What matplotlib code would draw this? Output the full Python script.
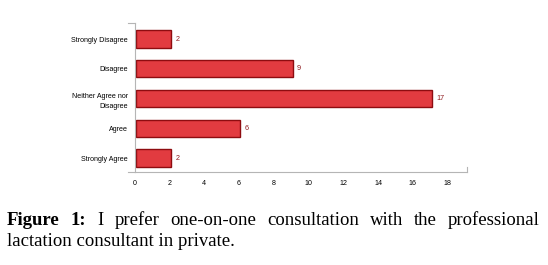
import matplotlib
matplotlib.use('Agg')
import matplotlib.pyplot as plt

categories = ['Strongly Agree', 'Agree', 'Neither Agree nor\nDisagree', 'Disagree', 'Strongly Disagree']
counts = [2, 6, 17, 9, 2]
xticks = [0, 2, 4, 6, 8, 10, 12, 14, 16, 18]

W, H = 548, 265
fig = plt.figure(figsize=(W / 100, H / 100), dpi=100)
ax = fig.add_axes([134.7 / W, 1 - 171.7 / H, (466.7 - 134.7) / W, (171.7 - 23.3) / H])

ypos = list(range(len(categories)))
bars = ax.barh(ypos, counts, height=0.58, left=0.08, color='#e23b40',
               edgecolor='#8e0c10', linewidth=1.0)
for y, v in zip(ypos, counts):
    ax.text(v + 0.08 + 0.25, y, str(v), va='center', ha='left',
            fontsize=5.2, color='#8e1a1e', family='Liberation Sans')

ax.set_xlim(0, 19.1)
ax.set_ylim(-0.46, 4.53)
ax.set_yticks(ypos)
ax.set_yticklabels(categories, fontsize=5.1, family='Liberation Sans', linespacing=1.7)
ax.set_xticks(xticks)
ax.set_xticklabels([str(t) for t in xticks], fontsize=5.1, family='Liberation Sans')
ax.tick_params(length=0, pad=5)
ax.tick_params(axis='x', pad=6)
for s in ['top', 'right']:
    ax.spines[s].set_visible(False)
for s in ['left', 'bottom']:
    ax.spines[s].set_color('#b5b5b5')
    ax.spines[s].set_linewidth(0.8)
# small end caps on axes
ax.plot([-0.4, 0], [-0.46, -0.46], color='#b5b5b5', lw=0.8, clip_on=False)
ax.plot([0, -0.4], [4.53, 4.53], color='#b5b5b5', lw=0.8, clip_on=False)
ax.plot([19.1, 19.1], [-0.46, -0.3], color='#b5b5b5', lw=0.8, clip_on=False)

# justified caption
fig.canvas.draw()
r = fig.canvas.get_renderer()
line1 = [('Figure', 'bold'), ('1:', 'bold'), ('I', 'normal'), ('prefer', 'normal'),
         ('one-on-one', 'normal'), ('consultation', 'normal'), ('with', 'normal'),
         ('the', 'normal'), ('professional', 'normal')]
fs = 13.5
x0, x1 = 7, 540
texts = []
for w, wt in line1:
    t = fig.text(0, 0, w, fontsize=fs, family='Liberation Serif', weight=wt)
    texts.append(t)
widths = [t.get_window_extent(r).width for t in texts]
gap = (x1 - x0 - sum(widths)) / (len(widths) - 1)
x = x0
for t, w in zip(texts, widths):
    t.set_position((x / W, 1 - 225 / H))
    x += w + gap
fig.text(x0 / W, 1 - 246 / H, 'lactation consultant in private.', fontsize=fs,
         family='Liberation Serif')

fig.savefig('out.png', dpi=100)
